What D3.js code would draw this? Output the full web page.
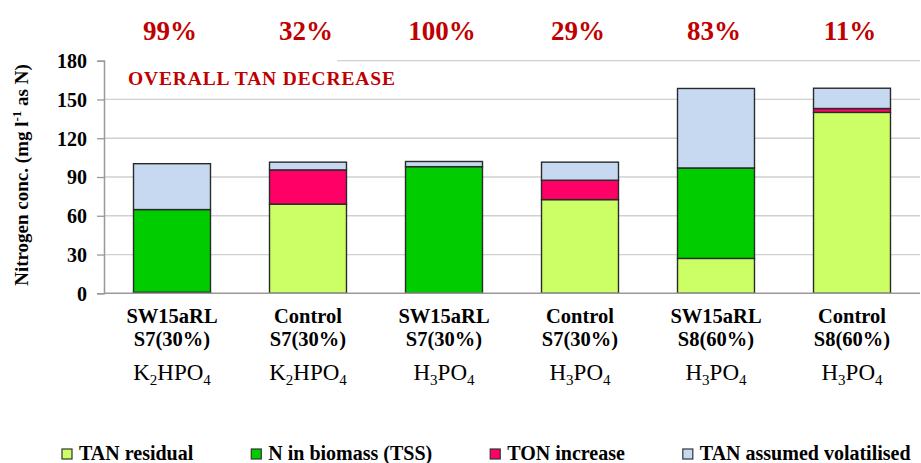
<!DOCTYPE html>
<html lang="en">
<head>
    <meta charset="UTF-8">
    <script src="https://cdn.jsdelivr.net/npm/d3@7"></script>
    <title>Nitrogen balance - TAN decrease</title>
    <style>
        html,
        body {
            margin: 0px;
            padding: 0px;
            background-color: #ffffff;
        }
        #chart svg {
            display: block;
        }
    </style>
</head>
<body>
    <div id="chart"></div>

    <script>
        // values (mg/l as N)
        let treatments = ['SW15aRL', 'Control', 'SW15aRL', 'Control', 'SW15aRL', 'Control'];
        let stages = ['S7(30%)', 'S7(30%)', 'S7(30%)', 'S7(30%)', 'S8(60%)', 'S8(60%)'];
        let salts = ['K2HPO4', 'K2HPO4', 'H3PO4', 'H3PO4', 'H3PO4', 'H3PO4'];

        let tan_residual = [0.8, 69, 0, 72.5, 27, 140];
        let n_biomass = [64, 0, 98, 0, 70, 0];
        let ton_increase = [0, 26.5, 0, 15, 0, 3];
        let tan_volatilised = [35.5, 6, 4, 14, 61.5, 15.7];

        let decrease_labels = ['99%', '32%', '100%', '29%', '83%', '11%'];
        let y_ticks = [0, 30, 60, 90, 120, 150, 180];

        let series_details = [
            { key: 'tan_residual', name: 'TAN residual', colour: '#CCFF66' },
            { key: 'n_biomass', name: 'N in biomass (TSS)', colour: '#00CC00' },
            { key: 'ton_increase', name: 'TON increase', colour: '#FF0066' },
            { key: 'tan_volatilised', name: 'TAN assumed volatilised', colour: '#C6D9F1' }
        ];

        let width = 921;
        let height = 463;

        let margin = { top: 60.7, bottom: 169.7, left: 104, right: 1 };

        let svg = d3.select('#chart').append('svg')
            .attr('width', width)
            .attr('height', height)
            .style('font-family', '"Liberation Serif", "Times New Roman", serif');

        let rows = treatments.map((t, i) => ({
            idx: i,
            tan_residual: tan_residual[i],
            n_biomass: n_biomass[i],
            ton_increase: ton_increase[i],
            tan_volatilised: tan_volatilised[i]
        }));

        let x = d3.scaleBand()
            .domain(d3.range(treatments.length))
            .range([margin.left, width - margin.right])
            .paddingInner(0.434)
            .paddingOuter(0.217);

        let y = d3.scaleLinear()
            .domain([0, 180])
            .range([height - margin.bottom, margin.top]);

        // gridlines
        svg.append('g')
            .selectAll('line')
            .data(y_ticks.filter(v => v > 0))
            .join('line')
            .attr('x1', margin.left)
            .attr('x2', width - margin.right)
            .attr('y1', d => y(d))
            .attr('y2', d => y(d))
            .attr('stroke', '#d0d0d0')
            .attr('stroke-width', 1.3);

        // white box of the annotation hides the top gridline
        svg.append('rect')
            .attr('x', margin.left + 1)
            .attr('y', y(180) - 4)
            .attr('width', 232)
            .attr('height', 36)
            .attr('fill', '#fff');

        svg.append('text')
            .attr('x', 128)
            .attr('y', 85)
            .attr('fill', '#C00000')
            .attr('font-weight', 'bold')
            .attr('font-size', 19.5)
            .attr('textLength', 267)
            .attr('lengthAdjust', 'spacing')
            .text('OVERALL TAN DECREASE');

        // stacked bars
        let stack = d3.stack().keys(series_details.map(s => s.key));
        let stacked = stack(rows);

        svg.append('g')
            .selectAll('g')
            .data(stacked)
            .join('g')
            .attr('fill', (s, i) => series_details[i].colour)
            .selectAll('rect')
            .data(s => s.filter(d => d[1] - d[0] > 0))
            .join('rect')
            .attr('x', d => x(d.data.idx))
            .attr('width', x.bandwidth())
            .attr('y', d => y(d[1]))
            .attr('height', d => y(d[0]) - y(d[1]))
            .attr('stroke', '#2a2a2a')
            .attr('stroke-width', 1.4);

        // y axis
        let y_axis = svg.append('g')
            .attr('transform', `translate(${margin.left},0)`)
            .call(d3.axisLeft(y).tickValues(y_ticks).tickSize(7).tickPadding(10));
        y_axis.attr('font-family', null);
        y_axis.select('.domain').attr('stroke', '#999').attr('stroke-width', 1.5);
        y_axis.selectAll('.tick line').attr('stroke', '#999').attr('stroke-width', 1.3);
        y_axis.selectAll('.tick text')
            .attr('font-size', 20)
            .attr('font-weight', 'bold')
            .attr('fill', '#000')
            .attr('dy', '0.34em');

        // x axis base line
        svg.append('line')
            .attr('x1', margin.left)
            .attr('x2', width - margin.right)
            .attr('y1', y(0))
            .attr('y2', y(0))
            .attr('stroke', '#999')
            .attr('stroke-width', 1.5);

        // y axis title
        let title = svg.append('text')
            .attr('transform', `translate(28,${(y(0) + y(180)) / 2 - 2}) rotate(-90)`)
            .attr('text-anchor', 'middle')
            .attr('font-weight', 'bold')
            .attr('font-size', 19)
            .attr('fill', '#000');
        title.append('tspan').text('Nitrogen conc. (mg l');
        title.append('tspan').attr('dy', -7).attr('font-size', 13).text('-1');
        title.append('tspan').attr('dy', 7).text(' as N)');

        // category labels
        let labels = svg.append('g')
            .selectAll('g')
            .data(d3.range(treatments.length))
            .join('g')
            .attr('transform', i => `translate(${x(i) + x.bandwidth() / 2},0)`)
            .attr('text-anchor', 'middle')
            .attr('fill', '#000');

        labels.append('text')
            .attr('y', 323)
            .attr('font-weight', 'bold')
            .attr('font-size', 20.5)
            .text(i => treatments[i]);

        labels.append('text')
            .attr('y', 346)
            .attr('font-weight', 'bold')
            .attr('font-size', 20.5)
            .text(i => stages[i]);

        labels.append('text')
            .attr('y', 380)
            .attr('font-size', 23)
            .each(function (i) {
                let t = d3.select(this);
                let parts = salts[i].match(/[A-Z]+|\d+/g);
                let shifted = false;
                parts.forEach(p => {
                    if (/\d/.test(p)) {
                        t.append('tspan').attr('font-size', 15).attr('dy', shifted ? 0 : 5).text(p);
                        shifted = true;
                    } else {
                        t.append('tspan').attr('dy', shifted ? -5 : 0).text(p);
                        shifted = false;
                    }
                });
            });

        // decrease percentages above bars
        svg.append('g')
            .selectAll('text')
            .data(decrease_labels)
            .join('text')
            .attr('x', (d, i) => x(i) + x.bandwidth() / 2 - 2)
            .attr('y', 40)
            .attr('text-anchor', 'middle')
            .attr('fill', '#C00000')
            .attr('font-weight', 'bold')
            .attr('font-size', 27)
            .text(d => d);

        // legend
        let legend = svg.append('g').attr('transform', 'translate(62,449)');
        let lx = 0;
        series_details.forEach(s => {
            let item = legend.append('g').attr('transform', `translate(${lx},0)`);
            item.append('rect')
                .attr('width', 10)
                .attr('height', 10)
                .attr('fill', s.colour)
                .attr('stroke', '#333')
                .attr('stroke-width', 1.2);
            let txt = item.append('text')
                .attr('x', 17)
                .attr('y', 10.5)
                .attr('font-weight', 'bold')
                .attr('font-size', 20)
                .attr('fill', '#000')
                .text(s.name);
            lx += 17 + txt.node().getComputedTextLength() + 58;
        });
    </script>
</body>
</html>
